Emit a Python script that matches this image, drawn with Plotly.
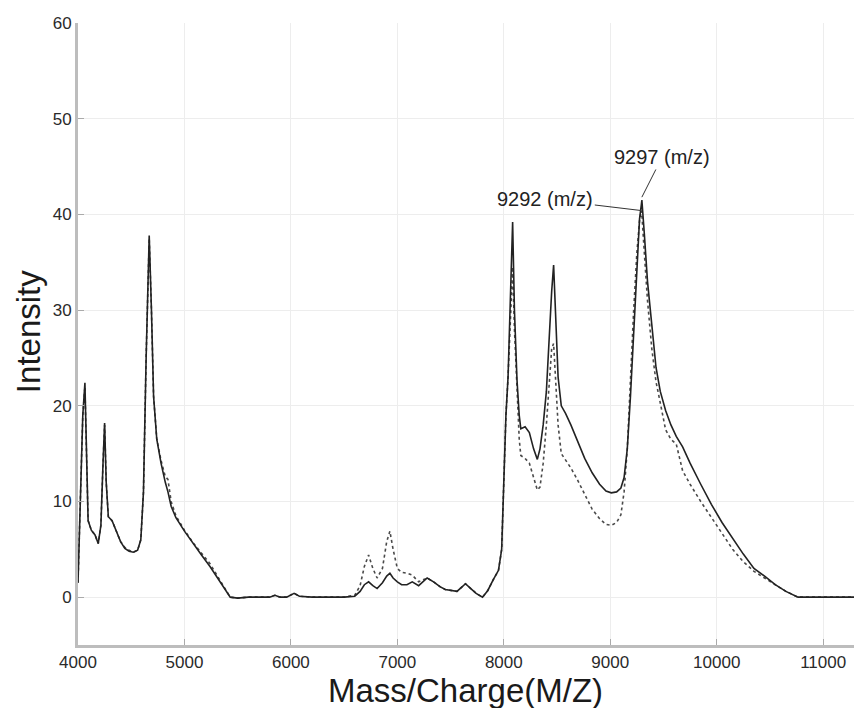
import plotly.graph_objects as go

# m/z grid shared by both spectra
mz = [4000, 4020, 4045, 4065, 4080, 4095, 4125, 4160, 4190, 4215, 4235, 4250, 4265, 4285,
      4320, 4360, 4400, 4440, 4480, 4520, 4560, 4590, 4615, 4640, 4669, 4690, 4710, 4740,
      4780, 4820, 4845, 4875, 4920, 5000, 5080, 5160, 5240, 5310, 5370, 5430, 5500, 5600,
      5700, 5800, 5850, 5900, 5960, 6030, 6080, 6200, 6350, 6500, 6600, 6650, 6690, 6730,
      6770, 6810, 6860, 6900, 6930, 6960, 7000, 7040, 7090, 7140, 7200, 7240, 7280, 7340,
      7400, 7450, 7500, 7560, 7600, 7640, 7690, 7740, 7800, 7850, 7900, 7950, 7980, 8000,
      8020, 8040, 8060, 8083, 8100, 8124, 8145, 8160, 8200, 8240, 8280, 8315, 8340, 8370,
      8400, 8430, 8450, 8468, 8490, 8510, 8540, 8580, 8630, 8690, 8760, 8830, 8900, 8960,
      9010, 9060, 9100, 9130, 9160, 9190, 9220, 9250, 9275, 9292, 9297, 9320, 9350, 9390,
      9430, 9470, 9520, 9570, 9620, 9680, 9750, 9850, 9950, 10050, 10150, 10250, 10350,
      10450, 10550, 10650, 10764, 10900, 11100, 11400]

intensity_solid = [1.5, 10, 19, 22.4, 13, 8.0, 7.0, 6.5, 5.6, 7.5, 14, 18.2, 12, 8.4,
                   8.0, 6.8, 5.8, 5.1, 4.8, 4.7, 4.9, 6.0, 11, 25, 37.8, 30, 21, 16.5,
                   14.0, 12.0, 11.0, 9.5, 8.3, 6.9, 5.6, 4.4, 3.2, 2.0, 1.0, 0.0, -0.1, 0.0,
                   0.0, 0.0, 0.2, 0.0, 0.0, 0.4, 0.1, 0.0, 0.0, 0.0, 0.1, 0.6, 1.3, 1.6,
                   1.2, 0.9, 1.5, 2.2, 2.5, 2.0, 1.6, 1.3, 1.3, 1.6, 1.2, 1.6, 2.0, 1.6,
                   1.1, 0.8, 0.7, 0.6, 1.0, 1.4, 0.9, 0.4, 0.0, 0.7, 1.8, 2.8, 5, 12,
                   19, 23, 30, 39.2, 30, 22.7, 19, 17.6, 17.8, 17.2, 15.5, 14.4, 15.5, 18,
                   21.5, 28, 32, 34.7, 28, 23, 20.0, 19.2, 18.0, 16.3, 14.5, 13.0, 11.8, 11.1,
                   10.9, 11.0, 11.4, 12.5, 15.5, 21, 28, 35, 39.5, 41.0, 41.5, 38, 33, 28.5,
                   24, 21.5, 19.5, 18.0, 16.8, 15.7, 14.0, 11.8, 9.7, 7.8, 6.1, 4.5, 3.0,
                   2.2, 1.3, 0.6, 0.0, 0.0, 0.0, 0.0]

intensity_dotted = [1.5, 10, 19, 22.0, 13, 8.0, 7.0, 6.5, 5.6, 7.5, 14, 18.0, 12, 8.4,
                    8.0, 6.8, 5.8, 5.2, 4.9, 4.7, 4.9, 6.0, 11, 25, 37.5, 30, 21, 16.5,
                    14.3, 12.6, 12.3, 10.0, 8.5, 7.0, 5.7, 4.6, 3.5, 2.2, 1.1, 0.0, -0.1, 0.0,
                    0.0, 0.0, 0.2, 0.0, 0.0, 0.4, 0.1, 0.0, 0.0, 0.0, 0.2, 1.2, 3.2, 4.4,
                    3.0, 2.0, 3.0, 5.8, 6.9, 5.0, 3.0, 2.6, 2.5, 2.3, 1.6, 1.8, 2.0, 1.6,
                    1.1, 0.8, 0.7, 0.6, 1.0, 1.4, 0.9, 0.4, 0.0, 0.7, 1.8, 2.8, 5, 12,
                    19, 23, 29, 34.5, 28, 21, 16.5, 14.8, 14.5, 14.0, 12.5, 11.2, 11.5, 14,
                    18, 23, 26.0, 26.5, 22, 18, 15.0, 14.3, 13.5, 12.3, 10.7, 9.2, 8.2, 7.6,
                    7.5, 7.8, 8.6, 11, 15.5, 23, 30, 36, 39.3, 40.4, 40.0, 36, 31, 26,
                    22.5, 20.3, 17.5, 16.5, 16.0, 13.2, 11.8, 10.0, 8.3, 6.6, 5.0, 3.7, 2.7,
                    2.0, 1.3, 0.6, 0.0, 0.0, 0.0, 0.0]

x_ticks = [4000, 5000, 6000, 7000, 8000, 9000, 10000, 11000]
y_ticks = [0, 10, 20, 30, 40, 50, 60]

x_title = "Mass/Charge(M/Z)"
y_title = "Intensity"

peak_labels = ["9292 (m/z)", "9297 (m/z)"]
peak_mz = [9292, 9297]
peak_int = [40.4, 41.8]
label_mz = [8390, 9488]
label_int = [41.6, 46.0]

FONT = "Liberation Sans, Arial, Helvetica, sans-serif"

fig = go.Figure()
fig.add_trace(go.Scatter(x=mz, y=intensity_dotted, mode="lines",
                         line=dict(color="#4a4a4a", width=1.6, dash="dot"),
                         showlegend=False))
fig.add_trace(go.Scatter(x=mz, y=intensity_solid, mode="lines",
                         line=dict(color="#222222", width=1.6),
                         showlegend=False))

for t, px, py, ax, ay in zip(peak_labels, peak_mz, peak_int, label_mz, label_int):
    fig.add_annotation(x=px, y=py, ax=ax, ay=ay, axref="x", ayref="y", text=t,
                       showarrow=True, arrowhead=0, arrowwidth=1, arrowcolor="#333333",
                       font=dict(family=FONT, size=20, color="#222222"))

# axis titles placed as paper annotations for exact placement
fig.add_annotation(text=x_title, xref="paper", yref="paper", x=0.494, y=0,
                   xanchor="center", yanchor="middle", yshift=-45, showarrow=False,
                   font=dict(family=FONT, size=33, color="#1a1a1a"))
fig.add_annotation(text=y_title, xref="paper", yref="paper", x=0, y=0.503,
                   xanchor="center", yanchor="middle", xshift=-50, textangle=-90,
                   showarrow=False, font=dict(family=FONT, size=33, color="#1a1a1a"))

# the page places the figure 8 px in from the top-left corner; margins compensate
fig.update_layout(
    width=862, height=708,
    margin=dict(l=70, r=8, t=15, b=71, autoexpand=False),
    paper_bgcolor="white", plot_bgcolor="white",
    font=dict(family=FONT, color="#333333"),
)
fig.update_xaxes(range=[4000, 11365], tickvals=x_ticks, ticktext=[str(v) for v in x_ticks],
                 automargin=False,
                 showgrid=True, gridcolor="#ededed", gridwidth=1,
                 showline=True, linecolor="#bdbdbd", linewidth=3,
                 ticks="inside", ticklen=6, tickcolor="#aaaaaa",
                 tickfont=dict(size=17, color="#2a2a2a"), zeroline=False)
fig.update_yaxes(range=[-5, 60], tickvals=y_ticks, ticktext=[str(v) for v in y_ticks],
                 automargin=False,
                 showgrid=True, gridcolor="#ededed", gridwidth=1,
                 showline=True, linecolor="#bdbdbd", linewidth=3,
                 ticks="inside", ticklen=6, tickcolor="#aaaaaa",
                 tickfont=dict(size=17, color="#2a2a2a"), zeroline=False)

fig.write_html("out.html")
